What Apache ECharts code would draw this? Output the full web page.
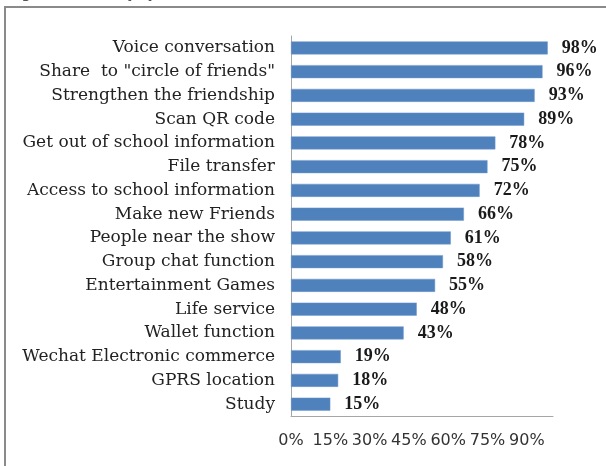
<!DOCTYPE html>
<html>
<head>
<meta charset="utf-8">
<script src="https://cdn.jsdelivr.net/npm/echarts@6/dist/echarts.min.js"></script>
<style>
html,body{margin:0;padding:0;background:#fff;}
#chart{width:606px;height:466px;}
</style>
</head>
<body>
<div id="chart"></div>
<script>
var categories = [
  "Voice conversation",
  "Share  to \"circle of friends\"",
  "Strengthen the friendship",
  "Scan QR code",
  "Get out of school information",
  "File transfer",
  "Access to school information",
  "Make new Friends",
  "People near the show",
  "Group chat function",
  "Entertainment Games",
  "Life service",
  "Wallet function",
  "Wechat Electronic commerce",
  "GPRS location",
  "Study"
];
var values = [98, 96, 93, 89, 78, 75, 72, 66, 61, 58, 55, 48, 43, 19, 18, 15];
var tickStep = 15;
var axisMax = 100;
var captionText = "Figure 5, Usability by students";

var chart = echarts.init(document.getElementById('chart'), null, {renderer: 'canvas'});
chart.setOption({
  animation: false,
  backgroundColor: '#ffffff',
  graphic: [
    {type: 'rect', shape: {x: 5, y: 7, width: 700, height: 600}, style: {fill: 'none', stroke: '#8a8a8a', lineWidth: 2}, silent: true},
    {type: 'text', left: 8, top: -16, style: {text: captionText, font: 'italic 17px "Liberation Serif"', fill: '#333'}, silent: true}
  ],
  grid: {left: 291, top: 36, right: 53, bottom: 50, containLabel: false},
  xAxis: {
    type: 'value', min: 0, max: axisMax, interval: tickStep,
    axisLine: {show: true, lineStyle: {color: '#a6a6a6', width: 1}},
    axisTick: {show: false},
    splitLine: {show: false},
    axisLabel: {
      showMaxLabel: false, margin: 17,
      formatter: function (v) { return v + '%'; },
      fontFamily: 'DejaVu Sans', fontSize: 16, color: '#333'
    }
  },
  yAxis: {
    type: 'category', inverse: true, data: categories,
    axisLine: {show: true, lineStyle: {color: '#a6a6a6', width: 1}},
    axisTick: {show: false},
    axisLabel: {margin: 16, fontFamily: 'DejaVu Serif', fontSize: 17, color: '#222'}
  },
  series: [{
    type: 'bar', data: values, barWidth: 13,
    itemStyle: {color: '#4f81bd', borderColor: '#6f98cb', borderWidth: 0.5},
    label: {
      show: true, position: 'right', distance: 14,
      formatter: function (p) { return p.value + '%'; },
      fontFamily: 'Liberation Serif', fontWeight: 'bold', fontSize: 18, color: '#1a1a1a'
    }
  }]
});
</script>
</body>
</html>
